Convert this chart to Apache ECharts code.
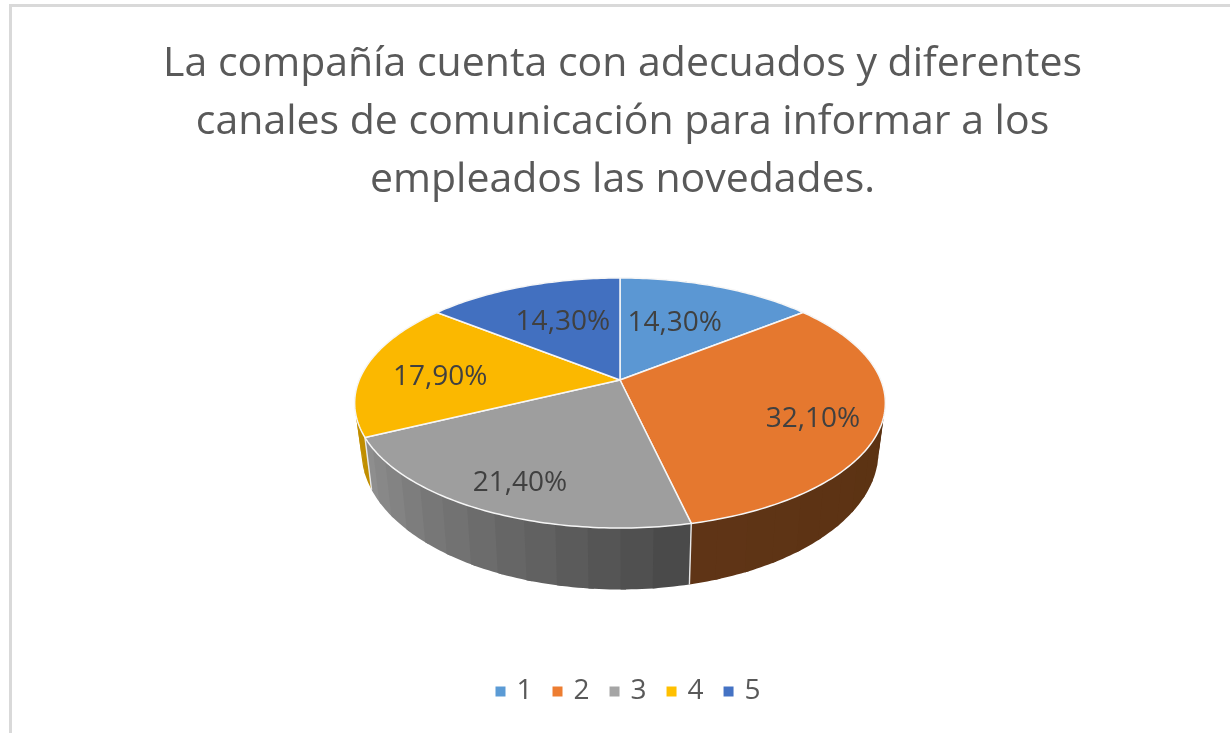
<!DOCTYPE html>
<html>
<head>
<meta charset="utf-8">
<style>html,body{margin:0;padding:0;background:#fff}#c{width:1230px;height:733px}</style>
<script src="https://cdn.jsdelivr.net/npm/echarts@6/dist/echarts.min.js"></script>
</head>
<body>
<div id="c"></div>
<script>
var titleText = 'La compañía cuenta con adecuados y diferentes\ncanales de comunicación para informar a los\nempleados las novedades.';
var categories = ['1', '2', '3', '4', '5'];
var values = [14.3, 32.1, 21.4, 17.9, 14.3];

var topColors = ['#5B97D3', '#E5782F', '#9E9E9E', '#FBB800', '#4270C0'];
var legendColors = ['#5B9BD5', '#ED7D31', '#A5A5A5', '#FFC000', '#4472C4'];
var sideStart = ['#35597f', '#58310f', '#4a4a4a', '#c08e00', '#274476'];
var sideEnd = ['#35597f', '#5f3416', '#8e8e8e', '#cf9c00', '#274476'];
var labelRadius = [0.585, 0.758, 0.797, 0.696, 0.597];
var labelFrac = [0.45, 0.528, 0.488, 0.456, 0.537];

// Perspective projection of the pie disc
var CX = 620, K = 0.184;
var TOP = {y0: 380, a: 120.8, b: 260.8};
var BOT = {y0: 426.5, a: 133, b: 254};
var total = values.reduce(function (s, v) { return s + v; }, 0);

function startAngle(i) {
  var s = 0;
  for (var j = 0; j < i; j++) s += values[j];
  return s / total * 360;
}
function project(deg, r, d) {
  var t = deg * Math.PI / 180, u = r * Math.sin(t), v = -r * Math.cos(t), w = 1 - K * v;
  return [CX + d.b * u / w, d.y0 + d.a * v / w];
}
function arc(a0, a1, d) {
  var pts = [], n = Math.max(2, Math.ceil(Math.abs(a1 - a0)));
  for (var i = 0; i <= n; i++) pts.push(project(a0 + (a1 - a0) * i / n, 1, d));
  return pts;
}
function hex(c) { return [1, 3, 5].map(function (i) { return parseInt(c.substr(i, 2), 16); }); }
function mix(c0, c1, t) {
  var a = hex(c0), b = hex(c1);
  return 'rgb(' + a.map(function (x, i) { return Math.round(x + (b[i] - x) * t); }).join(',') + ')';
}

function renderTop(params, api) {
  var i = params.seriesIndex, a0 = startAngle(i), a1 = a0 + api.value(0) / total * 360;
  var apex = project(0, 0, TOP);
  var lp = project(a0 + (a1 - a0) * labelFrac[i], labelRadius[i], TOP);
  return {
    type: 'group',
    children: [{
      type: 'polygon',
      shape: {points: [apex].concat(arc(a0, a1, TOP))},
      style: {fill: topColors[i], stroke: '#f6f6f6', lineWidth: 1.5, lineJoin: 'round'}
    }, {
      type: 'text',
      z2: 10,
      style: {
        x: lp[0], y: lp[1] + 2,
        text: api.value(0).toFixed(2).replace('.', ',') + '%',
        fill: '#404040', font: '28px "Open Sans"',
        align: 'center', verticalAlign: 'middle'
      }
    }]
  };
}
function renderSide(params, api) {
  var i = params.dataIndex, a0 = startAngle(i), a1 = a0 + api.value(0) / total * 360;
  var children = [], n = Math.max(1, Math.round((a1 - a0) / 6));
  // later bands are painted over a small overlap, so no seam shows through
  for (var b = n - 1; b >= 0; b--) {
    var s = a0 + (a1 - a0) * b / n, e = Math.min(a1, s + (a1 - a0) / n + 1);
    var col = mix(sideStart[i], sideEnd[i], n > 1 ? b / (n - 1) : 0);
    children.push({
      type: 'polygon',
      shape: {points: arc(s, e, TOP).concat(arc(s, e, BOT).reverse())},
      style: {fill: col}
    });
  }
  var p = project(a0, 1, TOP), q = project(a0, 1, BOT);
  children.push({
    type: 'line', z2: 5,
    shape: {x1: p[0], y1: p[1], x2: q[0], y2: q[1]},
    style: {stroke: '#e8e8e8', lineWidth: 1.4}
  });
  return {type: 'group', children: children};
}

var series = categories.map(function (name, i) {
  return {
    name: name, type: 'custom', coordinateSystem: 'none', z: 3,
    itemStyle: {color: legendColors[i]},
    renderItem: renderTop,
    data: [[values[i]]]
  };
});
series.push({
  name: 'lados', type: 'custom', coordinateSystem: 'none', z: 2, silent: true,
  renderItem: renderSide,
  data: values.map(function (v) { return [v]; })
});

var chart = echarts.init(document.getElementById('c'), null, {renderer: 'canvas'});
chart.setOption({
  animation: false,
  backgroundColor: '#fff',
  title: {
    text: titleText,
    left: 617.5, top: 30, textAlign: 'center',
    textStyle: {fontFamily: 'Open Sans', fontSize: 41, fontWeight: 'normal', color: '#595959', lineHeight: 58}
  },
  legend: {
    data: categories.map(function (n, i) { return {name: n, itemStyle: {color: legendColors[i]}}; }),
    left: 490.5, top: 672.5,
    icon: 'rect', itemWidth: 10, itemHeight: 10, itemGap: 20,
    textStyle: {fontFamily: 'Open Sans', fontSize: 28, color: '#595959', padding: [0, 0, 0, 6]}
  },
  graphic: [
    {type: 'rect', shape: {x: 9, y: 4, width: 1221, height: 3}, style: {fill: '#d9d9d9'}},
    {type: 'rect', shape: {x: 9, y: 4, width: 3, height: 729}, style: {fill: '#d9d9d9'}}
  ],
  series: series
});
</script>
</body>
</html>
